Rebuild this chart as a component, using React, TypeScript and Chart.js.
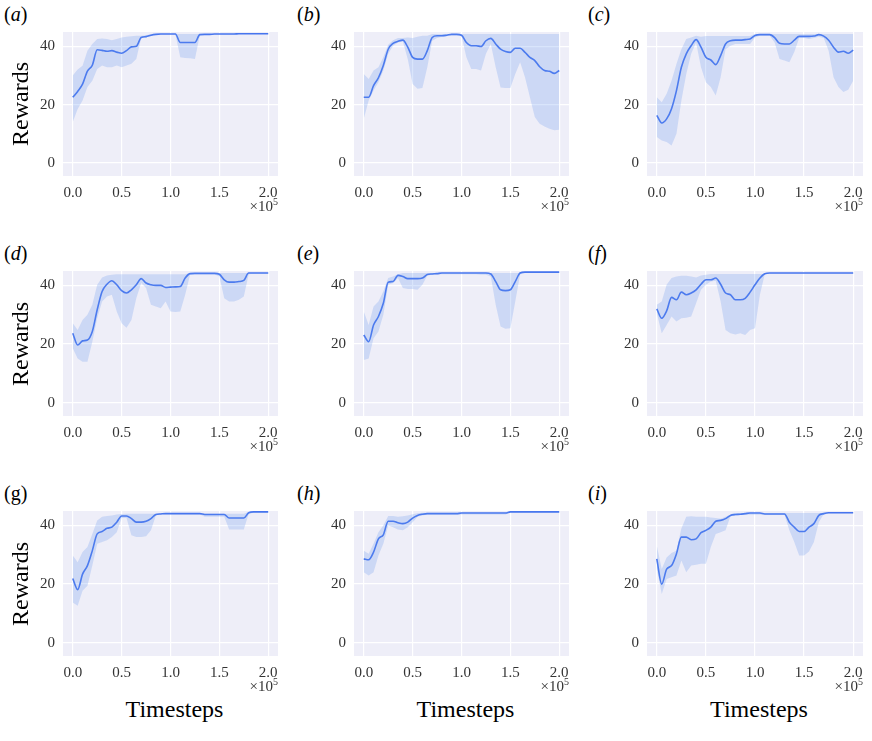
import React, { useEffect, useRef } from "react";
import { Chart, registerables } from "chart.js";

Chart.register(...registerables);

// Timesteps (x values)
const timesteps = [
  0, 5000, 10000, 15000, 20000, 25000, 30000, 35000, 40000, 45000,
  50000, 55000, 60000, 65000, 70000, 75000, 80000, 85000, 90000, 95000,
  100000, 105000, 110000, 115000, 120000, 125000, 130000, 135000, 140000, 145000,
  150000, 155000, 160000, 165000, 170000, 175000, 180000, 185000, 190000, 195000,
  200000,
];

const xTickValues = [0, 50000, 100000, 150000, 200000];
const yTickValues = [0, 20, 40];

// (a)
const meanA = [22.5, 24.5, 27, 31.5, 33.5, 38.8, 38.6, 38.3, 38.5, 38, 37.6, 38.5, 39.8, 40, 43, 43.3, 43.8, 44.1, 44.2, 44.2, 44.2, 44.2, 41.3, 41.3, 41.3, 41.3, 44, 44.1, 44.1, 44.2, 44.2, 44.2, 44.2, 44.2, 44.3, 44.3, 44.3, 44.3, 44.3, 44.3, 44.3];
const upperA = [30, 32, 33.3, 38.5, 40.8, 42.5, 42.7, 42.5, 42.1, 42.5, 43, 43.3, 43.4, 43.6, 43.6, 43.8, 44.2, 44.2, 44.2, 44.2, 44.2, 44.2, 44.2, 44.2, 44.2, 44.2, 44.2, 44.2, 44.2, 44.2, 44.2, 44.2, 44.2, 44.3, 44.3, 44.3, 44.3, 44.3, 44.3, 44.3, 44.3];
const lowerA = [14, 18.5, 21.4, 26, 28.2, 32.2, 33.4, 32.8, 32.8, 33.4, 32.8, 33.4, 34, 35.6, 42.8, 43, 43.7, 44, 44.2, 44.2, 44.2, 44.2, 36.2, 36, 35.9, 35.6, 43.8, 44.1, 44.1, 44.1, 44.1, 44.1, 44.1, 44.1, 44.2, 44.2, 44.2, 44.2, 44.2, 44.2, 44.2];

// (b)
const meanB = [22.5, 22.5, 26.5, 29.2, 33.4, 39, 41, 41.7, 42.1, 39.7, 36.2, 35.6, 35.6, 38.5, 43, 43.6, 43.6, 43.8, 44.1, 44.1, 43.8, 41.3, 40.2, 40.2, 39.9, 41.9, 42.7, 40.8, 39, 38.2, 37.9, 39.3, 39.3, 37.9, 36.2, 35.1, 33, 31.7, 31.4, 30.7, 31.7];
const upperB = [30.5, 28.8, 31.7, 32.8, 36.2, 40.5, 42.1, 42.8, 42.8, 43, 42.8, 43.3, 43.6, 43.6, 44.2, 44.2, 44.2, 44.2, 44.2, 44.2, 44.2, 44.2, 44.2, 44.2, 44.2, 44.2, 44.2, 44.2, 44.2, 44.2, 44.2, 44.2, 44.2, 44.2, 44.2, 44.2, 44.2, 44.2, 44.2, 44.2, 44.2];
const lowerB = [15.1, 21.4, 24.8, 27.7, 31.7, 37.4, 40.2, 41.3, 41.6, 35.6, 27.1, 25.4, 25.7, 32.8, 41.9, 42.8, 43.3, 43.6, 43.8, 43.8, 43.6, 36.2, 32.2, 32.2, 31.7, 37.4, 40.8, 32.8, 25.9, 25.7, 25.7, 30.5, 34.5, 29.4, 22.5, 15.7, 13.4, 12.5, 11.7, 11.2, 11.4];

// (c)
const meanC = [16.3, 13.7, 15.1, 18.6, 24.8, 32.8, 37.4, 40.2, 42.3, 39.7, 36.2, 35.3, 33.7, 36.8, 40.8, 41.9, 42.1, 42.1, 42.3, 42.5, 43.7, 44, 44, 44, 43, 41, 40.8, 40.8, 42.1, 43.4, 43.4, 43.4, 43.5, 44, 43.5, 42.1, 39.7, 38, 38.3, 37.6, 38.7];
const upperC = [22.5, 20.8, 23.7, 28.2, 33.9, 39, 42.5, 43, 43.6, 43.3, 43.5, 43.5, 43.5, 43.5, 43.5, 43.5, 43.5, 43.5, 43.5, 43.5, 44.2, 44.2, 44.2, 44.2, 44.2, 44.2, 44.2, 44.2, 44.2, 44.2, 44.2, 44.2, 44.2, 44.2, 44.2, 44.2, 44.2, 44.2, 44.2, 44.2, 44.2];
const lowerC = [8.9, 7.7, 7.2, 6, 10, 21.4, 30.5, 37.4, 41.3, 32.8, 27.7, 26, 23.1, 29.4, 39, 40.2, 40.8, 40.8, 40.8, 40.8, 43, 43.6, 43.6, 43.6, 41.3, 35.6, 35.1, 34.5, 38, 42.8, 42.8, 42.5, 42.8, 43.3, 42.8, 38.5, 29.4, 26, 24.3, 25.1, 28.2];

// (d)
const meanD = [23.7, 19.7, 21.1, 21.4, 24.3, 31.7, 37.9, 40.4, 41.6, 40.2, 38.2, 37.4, 38.5, 40.2, 42.3, 40.8, 40.2, 40, 40, 39.3, 39.4, 39.5, 39.6, 42.5, 44, 44.1, 44.1, 44.1, 44.1, 44.1, 43.8, 41.9, 41.1, 41.1, 41.3, 41.7, 44.2, 44.2, 44.2, 44.2, 44.2];
const upperD = [27.1, 24.8, 28.2, 30, 33.4, 40.2, 42.7, 43.4, 43.6, 43.8, 43.8, 43.8, 43.8, 43.8, 43.8, 43.8, 43.8, 43.8, 43.8, 43.8, 43.8, 43.8, 43.8, 43.8, 44.2, 44.2, 44.2, 44.2, 44.2, 44.2, 44.2, 44.2, 44.2, 44.2, 44.2, 44.2, 44.2, 44.2, 44.2, 44.2, 44.2];
const lowerD = [18.6, 15.1, 14, 14, 20.8, 28.8, 34.5, 36.2, 36.8, 31.1, 27.1, 25.6, 28.2, 35.6, 40.8, 39.1, 33.4, 32.8, 32.2, 34.5, 31.1, 30.9, 31.1, 36.8, 43.6, 43.8, 43.8, 43.8, 43.8, 43.8, 43, 35.6, 34.5, 34.5, 35.1, 36.2, 43.8, 44, 44, 44, 44];

// (e)
const meanE = [23.1, 20.8, 26.5, 29.4, 33.9, 41.1, 41.3, 43.4, 43, 42.3, 42.3, 42.3, 42.5, 43.7, 43.9, 44, 44.2, 44.2, 44.2, 44.2, 44.2, 44.2, 44.2, 44.2, 44.2, 44.2, 43.9, 41.3, 38.5, 38.2, 38.5, 41.3, 44.2, 44.5, 44.5, 44.5, 44.5, 44.5, 44.5, 44.5, 44.5];
const upperE = [31.1, 26.5, 32.8, 34.5, 37.9, 42.5, 43, 43.8, 44.2, 44.2, 44.2, 44.2, 44.2, 44.2, 44.2, 44.2, 44.2, 44.2, 44.2, 44.2, 44.2, 44.2, 44.2, 44.2, 44.2, 44.2, 44.2, 44.2, 44.2, 44.2, 44.2, 44.2, 44.2, 44.5, 44.5, 44.5, 44.5, 44.5, 44.5, 44.5, 44.5];
const lowerE = [14.6, 15.1, 22, 24.3, 30, 40.2, 40.8, 42.5, 39.1, 38.8, 38.8, 38.5, 40.2, 43.4, 43.6, 43.8, 43.8, 43.8, 43.8, 43.8, 43.8, 43.8, 43.8, 43.8, 43.6, 43.6, 43, 33.4, 26, 25.2, 25.4, 34.5, 43.8, 44.3, 44.3, 44.3, 44.3, 44.3, 44.3, 44.3, 44.3];

// (f)
const meanF = [32, 28.8, 31.3, 35.9, 35.1, 37.7, 36.8, 37.4, 38.5, 40.4, 41.9, 41.9, 42.5, 40.4, 37.4, 36.8, 35.1, 35.1, 35.6, 37.7, 40.2, 42.5, 44, 44.2, 44.2, 44.2, 44.2, 44.2, 44.2, 44.2, 44.2, 44.2, 44.2, 44.2, 44.2, 44.2, 44.2, 44.2, 44.2, 44.2, 44.2];
const upperF = [33.4, 34.5, 40.2, 42.5, 43, 43.3, 43.3, 43, 42.7, 43.4, 43.6, 43.9, 43.9, 43.9, 43.9, 43.9, 43.9, 43.9, 43.9, 43.9, 43.9, 43.9, 43.9, 44.2, 44.2, 44.2, 44.2, 44.2, 44.2, 44.2, 44.2, 44.2, 44.2, 44.2, 44.2, 44.2, 44.2, 44.2, 44.2, 44.2, 44.2];
const lowerF = [30.5, 23.7, 26.5, 29.4, 27.7, 28.8, 29, 29.4, 33.9, 38.5, 40.2, 41.3, 41.6, 34.5, 24.8, 23.7, 23.3, 23.7, 23.1, 24.8, 25.4, 36.8, 43.9, 44.1, 44.1, 44.1, 44.1, 44.1, 44.1, 44.1, 44.1, 44.1, 44.1, 44.1, 44.1, 44.1, 44.1, 44.1, 44.1, 44.1, 44.1];

// (g)
const meanG = [21.9, 18.1, 23.4, 26.3, 31.4, 37.1, 37.9, 39, 39.4, 41.1, 43.2, 43.2, 42.3, 41.1, 41.1, 41.4, 42.3, 43.7, 43.9, 44, 44, 44, 44, 44, 44, 44, 44, 43.7, 43.7, 43.7, 43.7, 43.7, 42.5, 42.5, 42.5, 42.5, 44.3, 44.6, 44.6, 44.6, 44.6];
const upperG = [29.7, 27.4, 30.9, 32.6, 37.1, 41.7, 42.9, 43.2, 43.4, 43.7, 43.9, 44, 44, 44, 44, 44, 44, 44, 44, 44, 44, 44, 44, 44, 44, 44, 44, 44, 44, 44, 44, 44, 44, 44, 44, 44, 44.6, 44.6, 44.6, 44.6, 44.6];
const lowerG = [13.7, 12.6, 17.7, 19.4, 26.3, 33.7, 34.3, 34.9, 36, 37.7, 42.5, 42.5, 36.6, 36, 36, 36.3, 38.3, 43.4, 43.8, 43.8, 43.8, 43.8, 43.8, 43.8, 43.8, 43.8, 43.8, 42.9, 42.9, 42.9, 42.9, 42.9, 38.6, 38.6, 38.6, 38.6, 44, 44.3, 44.3, 44.3, 44.3];

// (h)
const meanH = [28.6, 28.3, 30.9, 35.4, 36.8, 41.4, 41.4, 40.9, 40.6, 41.1, 42.5, 43.4, 43.8, 44, 44, 44, 44, 44, 44, 44, 44.2, 44.2, 44.2, 44.2, 44.2, 44.2, 44.2, 44.2, 44.2, 44.2, 44.6, 44.6, 44.6, 44.6, 44.6, 44.6, 44.6, 44.6, 44.6, 44.6, 44.6];
const upperH = [31.4, 30.3, 33.7, 37.7, 40, 43.2, 43.2, 42.9, 43.1, 43.4, 43.8, 44.1, 44.3, 44.3, 44.3, 44.3, 44.3, 44.3, 44.3, 44.3, 44.3, 44.3, 44.3, 44.3, 44.3, 44.3, 44.3, 44.3, 44.3, 44.3, 44.7, 44.7, 44.7, 44.7, 44.7, 44.7, 44.7, 44.7, 44.7, 44.7, 44.7];
const lowerH = [24, 22.9, 24, 29.7, 33.7, 40, 39.4, 38.6, 38.3, 39.4, 41.1, 42.9, 43.4, 43.7, 43.7, 43.7, 43.7, 43.7, 43.7, 43.7, 43.7, 43.7, 43.7, 43.7, 43.7, 43.7, 43.7, 43.7, 43.7, 43.7, 44.4, 44.4, 44.4, 44.4, 44.4, 44.4, 44.4, 44.4, 44.4, 44.4, 44.4];

// (i)
const meanI = [28.6, 20, 25.1, 26.3, 30.3, 36, 36, 35.1, 35.4, 37.5, 38.3, 39.4, 41.4, 41.7, 42.3, 43.4, 43.7, 43.8, 44, 44.2, 44.2, 44.2, 43.9, 43.9, 43.9, 43.9, 43.9, 41.1, 39.4, 37.9, 37.9, 39.4, 40.6, 43.4, 44, 44.3, 44.3, 44.3, 44.3, 44.3, 44.3];
const upperI = [33.1, 25.1, 29.1, 30.6, 31.4, 38.9, 42.9, 43.1, 42.9, 42.9, 42.9, 42.7, 42.5, 42.3, 42.9, 43.7, 44.2, 44.2, 44.2, 44.2, 44.2, 44.2, 44.2, 44.2, 44.2, 44.2, 44.2, 44.2, 44.2, 44.2, 44.2, 44.2, 44.2, 44.2, 44.2, 44.2, 44.2, 44.2, 44.2, 44.2, 44.2];
const lowerI = [25.1, 16.6, 21.7, 22.3, 22.9, 28, 24, 26.3, 26.6, 26.9, 26.9, 32.6, 37.1, 37.7, 38.3, 43.1, 43.4, 43.6, 43.6, 43.6, 43.6, 43.6, 43.6, 43.6, 43.6, 43.6, 43.6, 38.3, 34.3, 29.7, 29.7, 31.1, 34.3, 41.1, 43.9, 44.1, 44.1, 44.1, 44.1, 44.1, 44.1];

const panelLetters = ["a", "b", "c", "d", "e", "f", "g", "h", "i"];
const panelMeans = [meanA, meanB, meanC, meanD, meanE, meanF, meanG, meanH, meanI];
const panelUppers = [upperA, upperB, upperC, upperD, upperE, upperF, upperG, upperH, upperI];
const panelLowers = [lowerA, lowerB, lowerC, lowerD, lowerE, lowerF, lowerG, lowerH, lowerI];

// Layout (page pixels)
const COL_LEFT = [63, 354, 647];
const COL_RIGHT = [278, 569, 863];
const ROW_TOP = [32, 271, 511];
const ROW_BOTTOM = [176, 416, 656];
const LABEL_X = [4, 297, 588];

const PADL = 56;
const PADR = 6;
const PADT = 6;
const PADB = 30;

const SERIF = '"Liberation Serif", "Times New Roman", serif';
const BG = "#EEEEF8";
const LINE = "#4674EE";
const BAND = "rgba(96, 146, 238, 0.24)";
const TICK_COLOR = "#333333";

Chart.defaults.font.family = SERIF;

const bgPlugin = {
  id: "plotBg",
  beforeDraw(chart: any) {
    const { ctx, chartArea } = chart;
    if (!chartArea) return;
    ctx.save();
    ctx.fillStyle = BG;
    ctx.fillRect(chartArea.left, chartArea.top, chartArea.right - chartArea.left, chartArea.bottom - chartArea.top);
    ctx.restore();
  },
};

function Panel({ idx }: { idx: number }) {
  const ref = useRef<HTMLCanvasElement | null>(null);
  const col = idx % 3;
  const row = Math.floor(idx / 3);
  const plotW = COL_RIGHT[col] - COL_LEFT[col];
  const plotH = ROW_BOTTOM[row] - ROW_TOP[row];
  const w = plotW + PADL + PADR;
  const h = plotH + PADT + PADB;

  useEffect(() => {
    let chart: any = null;
    let cancelled = false;
    const build = () => {
      if (cancelled || !ref.current) return;
      const mk = (arr: number[]) => timesteps.map((t, i) => ({ x: t, y: arr[i] }));
      chart = new Chart(ref.current, {
        type: "line",
        data: {
          datasets: [
            {
              data: mk(panelUppers[idx]),
              borderWidth: 0,
              borderColor: "rgba(0,0,0,0)",
              backgroundColor: BAND,
              pointRadius: 0,
              fill: "+1",
              tension: 0,
            },
            {
              data: mk(panelLowers[idx]),
              borderWidth: 0,
              borderColor: "rgba(0,0,0,0)",
              backgroundColor: BAND,
              pointRadius: 0,
              fill: false,
              tension: 0,
            },
            {
              data: mk(panelMeans[idx]),
              borderWidth: 1.6,
              borderColor: LINE,
              pointRadius: 0,
              fill: false,
              cubicInterpolationMode: "monotone",
            },
          ],
        },
        options: {
          animation: false,
          responsive: false,
          maintainAspectRatio: false,
          events: [],
          layout: { padding: { left: 0, right: PADR, top: PADT, bottom: 0 } },
          plugins: { legend: { display: false }, tooltip: { enabled: false } },
          scales: {
            x: {
              type: "linear",
              min: -10000,
              max: 210000,
              border: { display: false },
              grid: { color: "#ffffff", lineWidth: 1.2, drawTicks: false },
              afterBuildTicks: (s: any) => {
                s.ticks = xTickValues.map((v) => ({ value: v }));
              },
              afterFit: (s: any) => {
                s.height = PADB;
                s.paddingLeft = 0;
                s.paddingRight = 0;
                s.paddingTop = 0;
                s.paddingBottom = 0;
              },
              ticks: {
                padding: 8,
                maxRotation: 0,
                autoSkip: false,
                color: TICK_COLOR,
                font: { family: SERIF, size: 15 },
                callback: (v: any) => (Number(v) / 100000).toFixed(1),
              },
            },
            y: {
              type: "linear",
              min: -4.5,
              max: 44.9,
              border: { display: false },
              grid: { color: "#ffffff", lineWidth: 1.2, drawTicks: false },
              afterBuildTicks: (s: any) => {
                s.ticks = yTickValues.map((v) => ({ value: v }));
              },
              afterFit: (s: any) => {
                s.width = PADL;
                s.paddingLeft = 0;
                s.paddingRight = 0;
                s.paddingTop = 0;
                s.paddingBottom = 0;
              },
              ticks: {
                padding: 8,
                color: TICK_COLOR,
                font: { family: SERIF, size: 15 },
                callback: (v: any) => String(v),
              },
            },
          },
        },
        plugins: [bgPlugin],
      } as any);
    };
    const fonts: any = (document as any).fonts;
    if (fonts && fonts.load) {
      Promise.all([fonts.load('15px "Liberation Serif"'), fonts.load('italic 20px "Liberation Serif"')])
        .catch(() => null)
        .then(() => build());
    } else {
      build();
    }
    return () => {
      cancelled = true;
      if (chart) chart.destroy();
    };
  }, [idx]);

  return (
    <canvas
      ref={ref}
      width={w}
      height={h}
      style={{
        position: "absolute",
        left: COL_LEFT[col] - PADL,
        top: ROW_TOP[row] - PADT,
        width: w,
        height: h,
      }}
    />
  );
}

export default function App() {
  const text: React.CSSProperties = { position: "absolute", fontFamily: SERIF, color: "#000", whiteSpace: "nowrap" };
  return (
    <div style={{ position: "absolute", left: 0, top: 0, width: 872, height: 741, background: "#ffffff", overflow: "hidden" }}>
      {panelLetters.map((_, i) => (
        <Panel key={i} idx={i} />
      ))}
      {panelLetters.map((l, i) => {
        const col = i % 3;
        const row = Math.floor(i / 3);
        return (
          <div key={"lab" + i} style={{ ...text, left: LABEL_X[col], top: ROW_TOP[row] - 29, fontSize: 20, lineHeight: "22px" }}>
            (<span style={{ fontStyle: l === "g" ? "normal" : "italic" }}>{l}</span>)
          </div>
        );
      })}
      {panelLetters.map((_, i) => {
        const col = i % 3;
        const row = Math.floor(i / 3);
        return (
          <div key={"exp" + i} style={{ ...text, left: COL_RIGHT[col] - 60, width: 60, textAlign: "right", top: ROW_BOTTOM[row] + 23, fontSize: 15, lineHeight: "15px", color: TICK_COLOR }}>
            ×10<sup style={{ fontSize: 10, verticalAlign: "6px", lineHeight: 0 }}>5</sup>
          </div>
        );
      })}
      {ROW_TOP.map((t, r) => (
        <div key={"rw" + r} style={{ ...text, left: 20, top: (t + ROW_BOTTOM[r]) / 2, fontSize: 24, lineHeight: "24px", transform: "translate(-50%, -50%) rotate(-90deg)" }}>
          Rewards
        </div>
      ))}
      {COL_LEFT.map((l, c) => (
        <div key={"ts" + c} style={{ ...text, left: (l + COL_RIGHT[c]) / 2 + 4, top: 697, fontSize: 24, lineHeight: "24px", transform: "translateX(-50%)" }}>
          Timesteps
        </div>
      ))}
    </div>
  );
}
